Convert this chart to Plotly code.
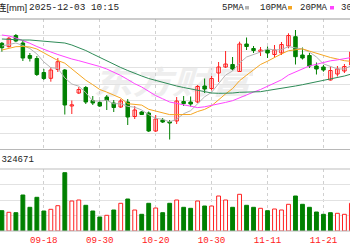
import base64
import plotly.graph_objects as go

# ---------------- data ----------------
dates = ["09-10", "09-11", "09-12", "09-15", "09-16", "09-17", "09-18", "09-19", "09-22", "09-23",
         "09-24", "09-25", "09-26", "09-29", "09-30",
         "10-09", "10-10", "10-13", "10-14", "10-15", "10-16", "10-17", "10-20", "10-21", "10-22",
         "10-23", "10-24", "10-27", "10-28", "10-29", "10-30", "10-31",
         "11-03", "11-04", "11-05", "11-06", "11-07", "11-10", "11-11", "11-12", "11-13", "11-14",
         "11-17", "11-18", "11-19", "11-20", "11-21", "11-24", "11-25", "11-26", "11-27"]

opens = [30.67, 30.33, 31.45, 30.7, 29.45, 29.15, 27.75, 27.17, 28.05, 28.0,
         24.4, 25.7, 26.25, 24.95, 24.75, 25.3, 24.7, 24.3, 24.8, 23.35,
         23.8, 23.7, 21.9, 23.0, 22.85, 22.9, 24.85, 24.8, 24.8, 26.4,
         26.15, 27.7, 28.3, 28.55, 27.85, 30.6, 30.15, 29.85, 30.0, 29.55,
         29.7, 30.4, 31.33, 29.5, 29.45, 28.4, 28.3, 27.0, 27.6, 27.9, 28.5]
highs = [30.8, 31.3, 31.6, 31.0, 29.7, 29.4, 28.1, 28.3, 29.2, 28.1,
         24.95, 26.3, 26.4, 25.4, 24.95, 25.5, 25.0, 25.1, 25.1, 24.4,
         23.9, 23.85, 23.5, 23.2, 23.0, 25.3, 25.4, 25.35, 26.5, 27.15,
         27.4, 28.8, 29.9, 29.3, 30.83, 31.25, 30.4, 30.3, 30.35, 30.5,
         30.8, 31.67, 32.0, 30.25, 29.7, 28.75, 28.5, 28.35, 28.4, 28.6, 30.1]
lows = [29.83, 30.25, 30.8, 28.9, 28.85, 27.4, 27.0, 26.83, 27.8, 23.55,
        23.6, 25.6, 24.6, 24.5, 24.3, 24.0, 23.8, 24.2, 22.5, 23.1,
        23.5, 21.8, 21.8, 22.7, 21.05, 22.6, 24.4, 24.35, 24.7, 25.7,
        25.95, 26.8, 28.2, 27.95, 27.8, 30.0, 29.7, 29.4, 29.2, 29.3,
        29.5, 30.17, 28.55, 29.05, 28.2, 27.55, 27.83, 26.95, 27.35, 27.7, 28.4]
closes = [30.23, 31.17, 30.9, 29.2, 29.17, 27.55, 27.15, 28.0, 28.83, 24.5,
          24.52, 26.05, 24.8, 24.7, 24.4, 24.95, 24.25, 24.9, 23.3, 24.0,
          23.55, 21.9, 23.1, 22.8, 22.7, 24.9, 24.65, 24.6, 26.35, 26.1,
          27.15, 28.3, 28.6, 28.1, 30.6, 30.35, 29.95, 30.0, 29.7, 30.0,
          30.55, 31.45, 29.33, 29.2, 28.4, 28.1, 28.0, 27.95, 28.1, 28.35, 29.8]
prev_close = 30.6

ma5 = [30.4, 30.55, 30.7, 30.45, 30.15, 29.61, 28.81, 28.23, 28.16, 27.21,
       26.6, 26.38, 25.74, 24.91, 24.89, 24.98, 24.62, 24.64, 24.36, 24.28,
       24.0, 23.53, 23.17, 23.07, 22.81, 23.08, 23.63, 23.93, 24.64, 25.32,
       25.77, 26.6, 27.5, 27.9, 28.7, 29.3, 29.52, 29.8, 30.12, 30.0,
       30.04, 30.34, 30.21, 30.11, 29.79, 29.3, 28.61, 28.33, 28.11, 28.1, 28.44]
ma10 = [30.0, 30.2, 30.33, 30.35, 30.3, 30.1, 29.7, 29.35, 28.95, 28.68,
        28.1, 27.59, 26.98, 26.53, 26.05, 25.79, 25.5, 25.19, 24.63, 24.58,
        24.49, 24.07, 23.9, 23.71, 23.54, 23.54, 23.58, 23.55, 23.85, 24.06,
        24.42, 25.06, 25.61, 26.14, 26.93, 27.48, 28.01, 28.55, 28.88, 29.27,
        29.61, 29.93, 30.0, 30.11, 29.89, 29.67, 29.47, 29.25, 29.1, 28.93, 28.86]
ma20 = [31.5, 31.4, 31.2, 30.95, 30.67, 30.35, 30.05, 29.8, 29.55, 29.3,
        29.1, 28.93, 28.75, 28.55, 28.35, 28.1, 27.8, 27.45, 27.05, 26.63,
        26.3, 25.83, 25.44, 25.12, 24.8, 24.66, 24.54, 24.37, 24.24, 24.32,
        24.46, 24.57, 24.76, 24.93, 25.24, 25.51, 25.79, 26.05, 26.37, 26.67,
        27.02, 27.5, 27.81, 28.13, 28.41, 28.57, 28.74, 28.92, 29.01, 29.12, 29.25]
ma30 = [31.1, 31.05, 31.0, 31.0, 31.0, 30.95, 30.9, 30.85, 30.8, 30.7,
        30.5, 30.25, 29.95, 29.6, 29.25, 28.95, 28.6, 28.25, 27.95, 27.65,
        27.4, 27.15, 26.95, 26.75, 26.6, 26.4, 26.25, 26.1, 25.95, 25.8,
        25.7, 25.67, 25.67, 25.7, 25.77, 25.8, 25.8, 25.83, 25.95, 26.05,
        26.15, 26.27, 26.4, 26.53, 26.67, 26.8, 26.97, 27.1, 27.23, 27.4, 27.6]

volumes = [203000, 187000, 183000, 360000, 237000, 337000, 200000, 217000, 253000, 583000,
           300000, 310000, 257000, 200000, 140000, 157000, 210000, 277000, 320000, 210000,
           167000, 277000, 230000, 183000, 277000, 310000, 237000, 227000, 300000, 250000,
           250000, 350000, 310000, 237000, 367000, 257000, 237000, 227000, 203000, 220000,
           210000, 267000, 350000, 267000, 237000, 190000, 167000, 183000, 177000, 167000, 277000]

tick_dates = ["09-18", "09-30", "10-20", "10-30", "11-11", "11-21"]
ma_names = ["5PMA", "10PMA", "20PMA", "30PMA"]
title_name = "连[mm]"
title_time = "2025-12-03 10:15"
vol_label = "成交量:324671"

# ---------------- styling ----------------
RED = "#ff2020"
GREEN = "#008000"
MA_COLORS = ["#b4b4b4", "#f5a623", "#ff44ff", "#2e8b57"]
MONO = "Liberation Mono, DejaVu Sans Mono, Noto Sans CJK SC, monospace"
SANS = "Liberation Sans, Noto Sans CJK SC, sans-serif"

W, H = 350, 250
n = len(dates)
x = list(range(n))
PX_PER_BAR = 6.99
X0_PX = 1.9
x_range = [-X0_PX / PX_PER_BAR, (W - X0_PX) / PX_PER_BAR]

# panel geometry (pixels from top)
P_TOP, P_BOT = 19.0, 149.5
V_TOP, V_BOT = 169.0, 231.0
price_range = [35 - P_BOT / 10, 35 - P_TOP / 10]
price_step = (price_range[1] - price_range[0]) / 8
vol_range = [0, 620000]

up = [c >= o for o, c in zip(opens, closes)]
vol_up = [closes[i] >= (closes[i - 1] if i > 0 else prev_close) for i in range(n)]

fig = go.Figure()

# wicks
for flag, col in ((True, RED), (False, GREEN)):
    wx, wy = [], []
    for i in x:
        if up[i] == flag:
            wx += [i, i, None]
            wy += [lows[i], highs[i], None]
    fig.add_trace(go.Scatter(x=wx, y=wy, mode="lines", line=dict(color=col, width=1),
                             xaxis="x2", yaxis="y2", hoverinfo="skip"))

# bodies
bases = [min(o, c) for o, c in zip(opens, closes)]
heights = [max(abs(c - o), 0.03) for o, c in zip(opens, closes)]
fig.add_trace(go.Bar(
    x=x, y=heights, base=bases, width=0.5,
    marker=dict(color=["white" if u else GREEN for u in up],
                line=dict(color=[RED if u else GREEN for u in up], width=1)),
    xaxis="x2", yaxis="y2", hoverinfo="skip"))

# moving averages
for vals, col in zip([ma5, ma10, ma20, ma30], MA_COLORS):
    fig.add_trace(go.Scatter(x=x, y=vals, mode="lines", line=dict(color=col, width=1),
                             xaxis="x2", yaxis="y2", hoverinfo="skip"))

# volume
fig.add_trace(go.Bar(
    x=x, y=volumes, width=0.55,
    marker=dict(color=["white" if u else GREEN for u in vol_up],
                line=dict(color=[RED if u else GREEN for u in vol_up], width=1)),
    xaxis="x", yaxis="y", hoverinfo="skip"))

tickvals = [dates.index(d) for d in tick_dates]
grid_x = dict(range=x_range, tickvals=tickvals, showgrid=True, gridcolor="#d0d0d0",
              griddash="3px,3px", gridwidth=1, zeroline=False, showline=False, ticks="")

fig.update_layout(
    width=W, height=H, margin=dict(l=0, r=0, t=0, b=0),
    paper_bgcolor="white", plot_bgcolor="white", showlegend=False,
    xaxis=dict(**grid_x, anchor="y", ticktext=tick_dates, ticklabelstandoff=2,
               tickfont=dict(family=MONO, size=9.2, color=RED)),
    xaxis2=dict(**grid_x, anchor="y2", matches="x", showticklabels=False),
    yaxis=dict(domain=[1 - V_BOT / H, 1 - V_TOP / H], range=vol_range,
               tickvals=[vol_range[1] / 4 * k for k in (1, 2, 3)],
               showticklabels=False, gridcolor="#e2e2e2", zeroline=False, ticks=""),
    yaxis2=dict(domain=[1 - P_BOT / H, 1 - P_TOP / H], range=price_range,
                tickvals=[price_range[0] + price_step * k for k in range(1, 8)],
                showticklabels=False, gridcolor="#e2e2e2", zeroline=False, ticks=""),
)

# panel borders
for yref, c0, c1 in (("y2 domain", "#b8b8b8", "#999999"), ("y domain", "#b8b8b8", "#bdbdbd")):
    fig.add_shape(type="line", xref="paper", yref=yref, x0=0, x1=1, y0=0, y1=0,
                  line=dict(color=c0, width=1))
    fig.add_shape(type="line", xref="paper", yref=yref, x0=0, x1=1, y0=1, y1=1,
                  line=dict(color=c1, width=1))

# header texts
fig.add_annotation(text=title_name, xref="paper", yref="paper", x=28.5 / W, y=1 - 7.5 / H,
                   xanchor="right", yanchor="middle", showarrow=False,
                   font=dict(family=SANS, size=9.4, color="#222222"))
fig.add_annotation(text=title_time, xref="paper", yref="paper", x=120.5 / W, y=1 - 7.5 / H,
                   xanchor="right", yanchor="middle", showarrow=False,
                   font=dict(family=MONO, size=9.4, color="#222222"))
leg_x = [220, 258.3, 298.3, 339]
sq_x = [245, 288, 330, 373]
for name, lx, sx, col in zip(ma_names, leg_x, sq_x, MA_COLORS):
    fig.add_annotation(text=name, xref="paper", yref="paper", x=lx / W, y=1 - 7.5 / H,
                       xanchor="left", yanchor="middle", showarrow=False,
                       font=dict(family=MONO, size=9.0, color="#222222"))
    fig.add_shape(type="rect", xref="paper", yref="paper", x0=sx / W, x1=(sx + 4) / W,
                  y0=1 - 9.5 / H, y1=1 - 6 / H, line=dict(width=0), fillcolor=col)

fig.add_annotation(text=vol_label, xref="paper", yref="paper", x=35.5 / W, y=1 - 159 / H,
                   xanchor="right", yanchor="middle", showarrow=False,
                   font=dict(family=MONO, size=9.0, color="#222222"))

# faint watermark
svg = ('<svg xmlns="http://www.w3.org/2000/svg" width="160" height="34" viewBox="0 0 160 34">'
       '<text x="0" y="30" font-family="Noto Sans CJK SC" font-weight="bold" font-style="italic" '
       'font-size="32" fill="#eeeeee" textLength="158" lengthAdjust="spacingAndGlyphs">东方财富</text></svg>')
src = "data:image/svg+xml;base64," + base64.b64encode(svg.encode("utf-8")).decode("ascii")
fig.add_layout_image(source=src, xref="paper", yref="paper", x=93 / W, y=1 - 64 / H,
                     sizex=160 / W, sizey=34 / H, xanchor="left", yanchor="top",
                     sizing="stretch", layer="below")

fig.write_html("out.html", config={"displayModeBar": False})
